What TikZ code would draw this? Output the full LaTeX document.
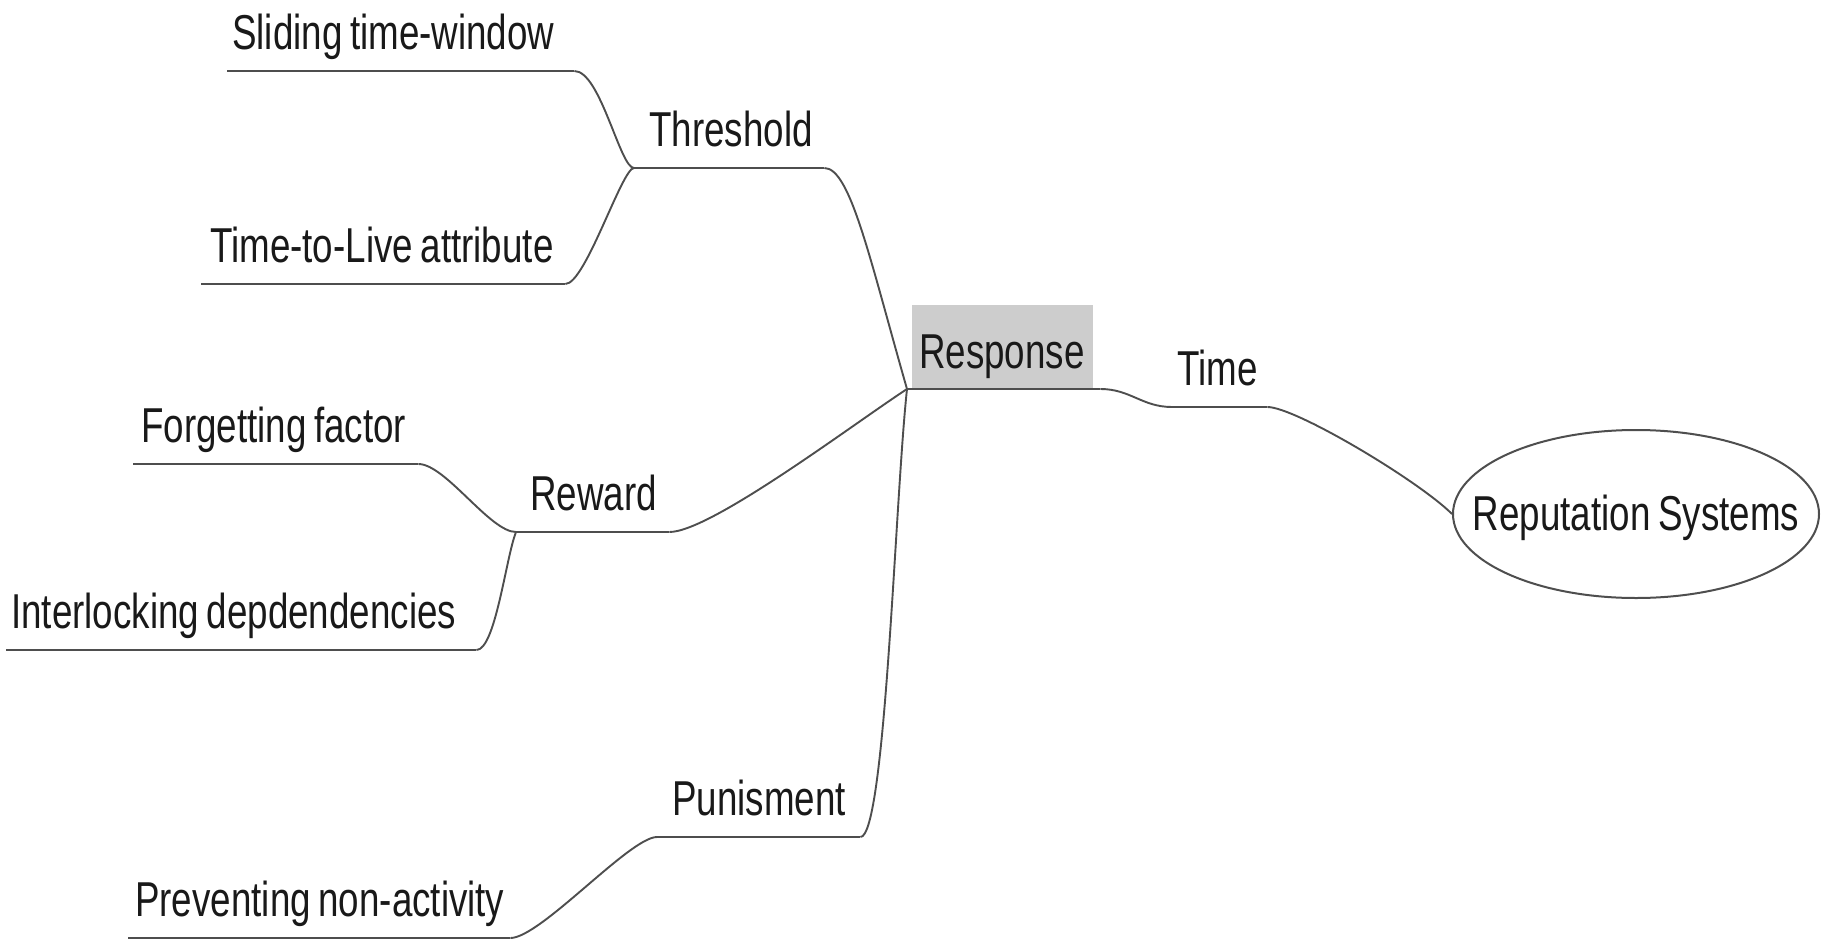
\documentclass[tikz,border=0pt]{standalone}
\usepackage{fontspec}
\setmainfont{Liberation Sans}[FakeStretch=0.75, WordSpace=0.75]
\usetikzlibrary{shapes.geometric}
\definecolor{linegray}{HTML}{4E4E4E}
\definecolor{boxgray}{HTML}{CDCDCD}
\newcommand\topicfont{\fontsize{49pt}{58pt}\selectfont}
% label of fixed width #1, text indented by #2
\newcommand\tlabel[3]{\makebox[#1][l]{\hspace*{#2}#3}}
\tikzset{
  topic/.style={anchor=south west, inner xsep=0pt, inner ysep=0pt,
    text height=40pt, text depth=21pt, font=\topicfont, text=black!90},
  uline/.style={draw=linegray, line width=2.4pt},
  edge/.style={draw=linegray, line width=1.9pt},
}
\begin{document}
\begin{tikzpicture}[x=1pt, y=-1pt]
\useasboundingbox (0,0) rectangle (1829,940);

% central topic and root
\node[topic, fill=boxgray, text height=64pt, text depth=19pt]
  (resp) at (912,388) {\tlabel{181pt}{7pt}{Response}};
\coordinate (hub) at ([xshift=-5pt,yshift=-1pt]resp.south west);
\coordinate (respend) at ([xshift=7pt,yshift=-1pt]resp.south east);

\node[ellipse, draw=linegray, line width=2pt, minimum width=366pt, minimum height=168pt,
  inner sep=0pt, font=\topicfont, text height=36pt, text depth=3pt, text=black!90]
  (rep) at (1636,514) {\makebox[0pt]{Reputation Systems}};

% topics, placed by their underline (south west corner)
\node[topic] (time)      at (1172,407) {\tlabel{95pt}{5pt}{Time}};
\node[topic] (threshold) at (634,168)  {\tlabel{190pt}{15pt}{Threshold}};
\node[topic] (sliding)   at (227,71)   {\tlabel{347pt}{5pt}{Sliding time-window}};
\node[topic] (ttl)       at (201,284)  {\tlabel{364pt}{9pt}{Time-to-Live attribute}};
\node[topic] (reward)    at (516,532)  {\tlabel{153pt}{14pt}{Reward}};
\node[topic] (forget)    at (133,464)  {\tlabel{285pt}{8pt}{Forgetting factor}};
\node[topic] (interlock) at (6,650)    {\tlabel{470pt}{5pt}{Interlocking depdendencies}};
\node[topic] (punish)    at (657,837)  {\tlabel{203pt}{15pt}{Punisment}};
\node[topic] (prevent)   at (128,938)  {\tlabel{382pt}{7pt}{Preventing non-activity}};

% underlines
\draw[uline] (hub) -- (respend);
\foreach \n in {time,threshold,sliding,ttl,reward,forget,interlock,punish,prevent}
  \draw[uline] (\n.south west) -- (\n.south east);

% connectors
\draw[edge] (respend) .. controls +(30,0) and +(-30,0) .. (time.south west);
\draw[edge] (time.south east) .. controls +(28,0) and +(-33,-33) .. (rep.west);

\draw[edge] (threshold.south east) .. controls +(26,0) and +(-37,-129) .. (hub);
\draw[edge] (reward.south east) .. controls +(41,0) and +(-55,36) .. (hub);
\draw[edge] (punish.south east) .. controls +(25,0) and +(-12,111) .. (hub);

\draw[edge] (sliding.south east) .. controls +(26,0) and +(-14,0) .. (threshold.south west);
\draw[edge] (ttl.south east) .. controls +(20,0) and +(-12,0) .. (threshold.south west);

\draw[edge] (forget.south east) .. controls +(27,0) and +(-26,0) .. (reward.south west);
\draw[edge] (interlock.south east) .. controls +(19,0) and +(-10,25) .. (reward.south west);

\draw[edge] (prevent.south east) .. controls +(30,0) and +(-27,0) .. (punish.south west);
\end{tikzpicture}
\end{document}
